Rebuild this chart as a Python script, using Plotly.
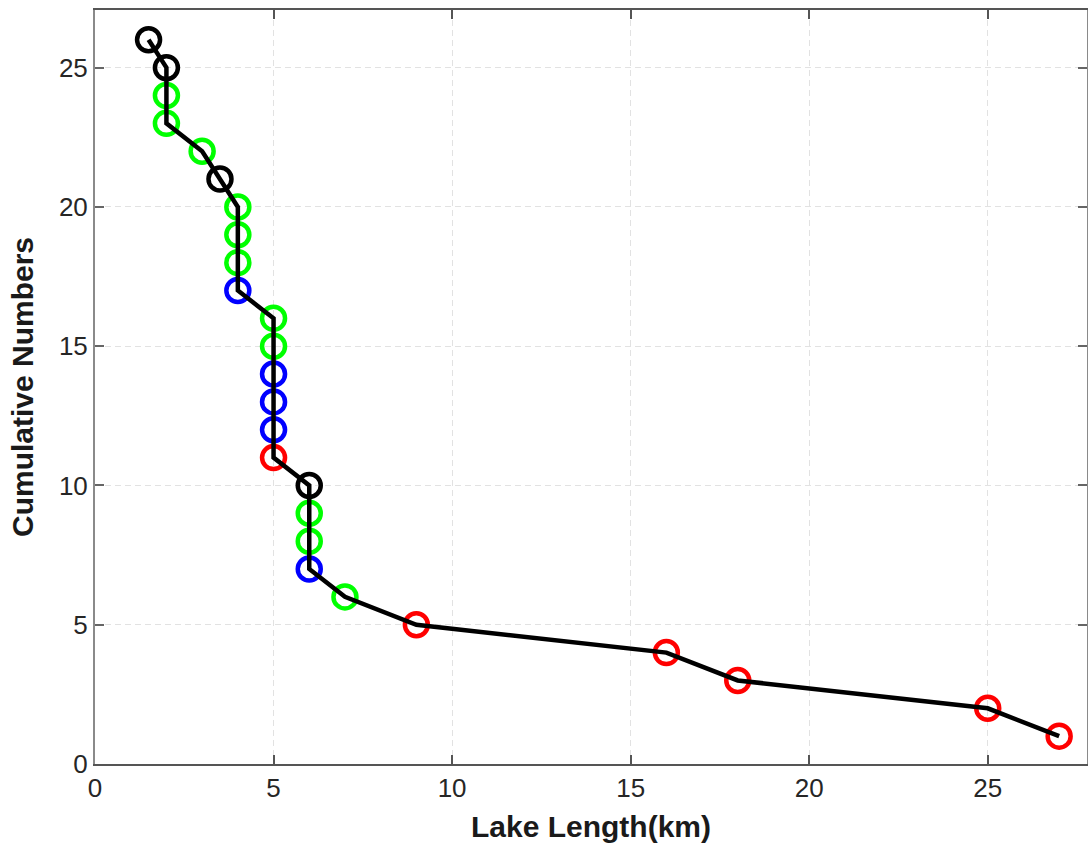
import plotly.graph_objects as go

# Lake lengths (km) and their cumulative counts
lake_length = [1.5, 2, 2, 2, 3, 3.5, 4, 4, 4, 4, 5, 5, 5, 5, 5, 5,
               6, 6, 6, 6, 7, 9, 16, 18, 25, 27]
cumulative = [26, 25, 24, 23, 22, 21, 20, 19, 18, 17, 16, 15, 14, 13, 12, 11,
              10, 9, 8, 7, 6, 5, 4, 3, 2, 1]
marker_colors = ["#000000", "#000000", "#00ff00", "#00ff00", "#00ff00", "#000000",
                 "#00ff00", "#00ff00", "#00ff00", "#0000ff",
                 "#00ff00", "#00ff00", "#0000ff", "#0000ff", "#0000ff", "#ff0000",
                 "#000000", "#00ff00", "#00ff00", "#0000ff",
                 "#00ff00", "#ff0000", "#ff0000", "#ff0000", "#ff0000", "#ff0000"]

x_ticks = [0, 5, 10, 15, 20, 25]
y_ticks = [0, 5, 10, 15, 20, 25]

FONT = "Liberation Sans, Arial, sans-serif"

fig = go.Figure()
# open circles, coloured per lake
fig.add_trace(go.Scatter(
    x=lake_length, y=cumulative, mode="markers",
    marker=dict(symbol="circle-open", size=23, color=marker_colors,
                line=dict(width=4.5, color=marker_colors)),
    showlegend=False, hoverinfo="x+y",
))
# connecting line drawn on top of the circles
fig.add_trace(go.Scatter(
    x=lake_length, y=cumulative, mode="lines",
    line=dict(color="#000000", width=4.5),
    showlegend=False, hoverinfo="skip",
))

axis_common = dict(
    showgrid=True, gridcolor="#e2e2e2", griddash="6px,4px", gridwidth=1,
    zeroline=False, showline=True, linewidth=2,
    mirror="ticks", ticks="inside", ticklen=9, tickwidth=1.5,
    tickfont=dict(family=FONT, size=26, color="#262626"),
    automargin=False,
)

fig.update_xaxes(range=[0, 27.78], tickvals=x_ticks,
                 linecolor="#555555", tickcolor="#555555",
                 title=dict(text="<b>Lake Length(km)</b>", standoff=14,
                            font=dict(family=FONT, size=30, color="#1a1a1a")),
                 **axis_common)
fig.update_yaxes(range=[0, 27.07], tickvals=y_ticks,
                 linecolor="#8a8a8a", tickcolor="#666666",
                 title=dict(text="<b>Cumulative Numbers</b>", standoff=16,
                            font=dict(family=FONT, size=30, color="#1a1a1a")),
                 **axis_common)

fig.update_layout(
    width=1088, height=845,
    margin=dict(l=95, r=1, t=10, b=81),
    paper_bgcolor="white", plot_bgcolor="white",
)

fig.write_html("out.html")
